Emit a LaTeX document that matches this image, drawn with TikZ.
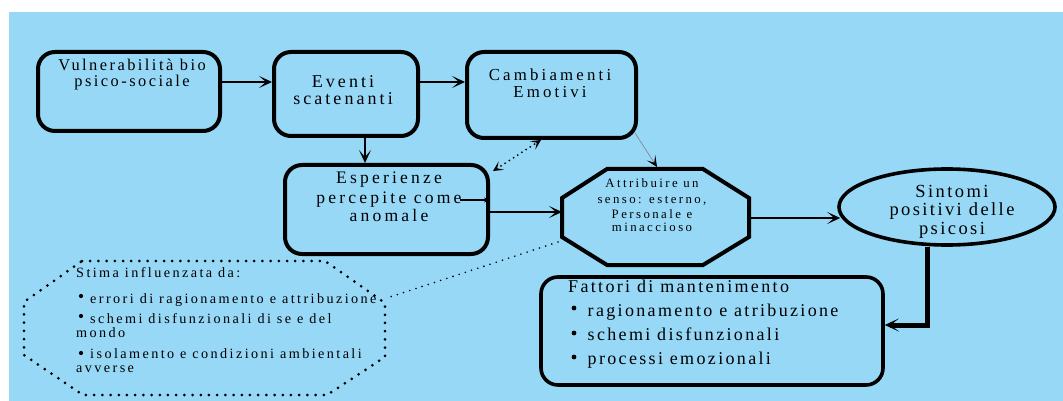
\documentclass[tikz,border=0pt]{standalone}
\usepackage{fontspec}
\setmainfont{Liberation Serif}
\usetikzlibrary{arrows.meta,calc,shapes.geometric}
\definecolor{bg}{RGB}{151,216,247}
\newcommand{\fsz}[2]{\fontsize{#1pt}{#1pt}\selectfont\addfontfeature{LetterSpace=#2}}
\begin{document}
\begin{tikzpicture}[x=1pt,y=-1pt,
  box/.style={draw=black, line width=4pt, rounded corners=17pt, inner sep=0pt},
  ln/.style={inner sep=0pt, anchor=base, text=black},
  lw/.style={inner sep=0pt, anchor=base west, text=black},
  arr/.style={line width=2.6pt, -{Stealth[length=13pt,width=12pt,inset=7pt]}},
  smallarr/.style={line width=1.4pt, -{Stealth[length=6pt,width=5pt,inset=2pt]}},
  dotarr/.style={line width=2pt, dash pattern=on 0pt off 5pt, line cap=round,
     {Stealth[length=10pt,width=10pt,inset=5pt]}-{Stealth[length=10pt,width=10pt,inset=5pt]}},
  bul/.style={circle, fill=black, inner sep=0pt, minimum size=4.8pt},
]
\useasboundingbox (0,0) rectangle (1063,401);
\fill[bg] (9,12) rectangle (1063,401);

% ---- boxes
\node[box, minimum width=182pt, minimum height=79pt] (b1) at (129,91.5) {};
\node[box, minimum width=144pt, minimum height=84pt] (b2) at (346,94) {};
\node[box, minimum width=169pt, minimum height=86pt] (b3) at (551.5,95) {};
\node[box, minimum width=203pt, minimum height=89pt] (b4) at (386.5,209.5) {};
\node[box, line width=3.6pt, minimum width=342pt, minimum height=108pt] (fm) at (712,331) {};
\node[draw=black, line width=3.6pt, ellipse, minimum width=216pt, minimum height=76pt, inner sep=0pt] (el) at (947,207) {};

% ---- octagon
\coordinate (o1) at (607,169);
\coordinate (o2) at (703,169);
\coordinate (o3) at (749,198);
\coordinate (o4) at (749,237);
\coordinate (o5) at (703,265);
\coordinate (o6) at (607,265);
\coordinate (o7) at (562,237);
\coordinate (o8) at (562,198);
\draw[line width=4pt, line join=miter] (o1) -- (o2) -- (o3) -- (o4) -- (o5) -- (o6) -- (o7) -- (o8) -- cycle;

% ---- dotted octagon
\coordinate (s1) at (82,261);
\coordinate (s2) at (325,261);
\coordinate (s3) at (385,303);
\coordinate (s4) at (385,357);
\coordinate (s5) at (327,395);
\coordinate (s6) at (83,395);
\coordinate (s7) at (24,355);
\coordinate (s8) at (24,302);
\draw[line width=3pt, dash pattern=on 0pt off 8.2pt, line cap=round]
  (s1) -- (s2) -- (s3) -- (s4) -- (s5) -- (s6) -- (s7) -- (s8) -- cycle;

% ---- texts
\node[ln, font=\fsz{16.4}{15}] (t1a) at (132,71) {Vulnerabilità bio};
\node[ln, font=\fsz{16.4}{15}] (t1b) at (132,87) {psico-sociale};
\node[ln, font=\fsz{18}{17}] (t2a) at (343,88) {Eventi};
\node[ln, font=\fsz{18}{17}] (t2b) at (343,105) {scatenanti};
\node[ln, font=\fsz{16.8}{19}] (t3a) at (550,81) {Cambiamenti};
\node[ln, font=\fsz{16.8}{19}] (t3b) at (550,98) {Emotivi};
\node[ln, font=\fsz{17.6}{18}] (t4a) at (389,183) {Esperienze};
\node[ln, font=\fsz{17.6}{18}] (t4b) at (389,203) {percepite come};
\node[ln, font=\fsz{17.6}{18}] (t4c) at (389,221) {anomale};
\node[ln, font=\fsz{12.8}{19}] (t5a) at (652,187) {Attribuire un};
\node[ln, font=\fsz{12.8}{19}] (t5b) at (652,203.5) {senso: esterno,};
\node[ln, font=\fsz{12.8}{19}] (t5c) at (652,218) {Personale e};
\node[ln, font=\fsz{12.8}{19}] (t5d) at (652,231.5) {minaccioso};
\node[ln, font=\fsz{18.5}{13}] (t6a) at (952,197) {Sintomi};
\node[ln, font=\fsz{18.5}{13}] (t6b) at (952,215.5) {positivi delle};
\node[ln, font=\fsz{18.5}{13}] (t6c) at (952,234) {psicosi};

\node[lw, font=\fsz{18}{13}] (f0) at (568,292) {Fattori di mantenimento};
\node[bul] (fb1) at (574,308) {};
\node[bul] (fb2) at (574,333) {};
\node[bul] (fb3) at (574,357) {};
\node[lw, font=\fsz{18}{13}] (f1) at (587.5,316) {ragionamento e atribuzione};
\node[lw, font=\fsz{18}{13}] (f2) at (587.5,340) {schemi disfunzionali};
\node[lw, font=\fsz{18}{13}] (f3) at (587.5,364) {processi emozionali};

\node[lw, font=\fsz{14.2}{17}] (g0) at (76,277) {Stima influenzata da:};
\node[bul, minimum size=4.2pt] (gb1) at (81,296) {};
\node[bul, minimum size=4.2pt] (gb2) at (81,316) {};
\node[bul, minimum size=4.2pt] (gb3) at (81,353) {};
\node[lw, font=\fsz{14.2}{17}] (g1) at (90,303) {errori di ragionamento e attribuzione};
\node[lw, font=\fsz{14.2}{17}] (g2) at (90,323) {schemi disfunzionali di se e del};
\node[lw, font=\fsz{14.2}{17}] (g3) at (76,337) {mondo};
\node[lw, font=\fsz{14.2}{17}] (g4) at (90,358) {isolamento e condizioni ambientali};
\node[lw, font=\fsz{14.2}{17}] (g5) at (76,372) {avverse};

% ---- connectors
\coordinate (r1) at (0,82);
\draw[arr] (b1.east |- r1) -- (b2.west |- r1);
\draw[arr] (b2.east |- r1) -- (b3.west |- r1);
\coordinate (c1) at (365,0);
\draw[arr] (b2.south -| c1) -- (b4.north -| c1);
\coordinate (oL) at (562,212);
\draw[arr] (b4.east |- oL) -- (oL);
\coordinate (oR) at (749,218);
\draw[arr] (oR) -- ($(el.west |- oR)+(3,0)$);
\coordinate (c2) at (927,0);
\coordinate (r2) at (0,325);
\draw[line width=5pt, -{Stealth[length=14pt,width=13pt,inset=8pt]}] (el.south -| c2) |- (fm.east |- r2);
\coordinate (oT) at (657,167);
\draw[gray, line width=0.6pt, -{Stealth[length=11pt,width=10pt,inset=6pt,color=black,fill=black]}] ([shift={(-3,-7)}]b3.south east) -- (oT);
\coordinate (c3) at (541,0);
\draw[dotarr] ($(b4.north east)+(3,8)$) -- (b3.south -| c3);
\coordinate (sm) at (460,200);
\draw[smallarr] (sm) -- (b4.east |- sm);
\coordinate (oLL) at (558,242);
\coordinate (sR) at (390,297);
\draw[line width=1.8pt, dash pattern=on 0pt off 6.5pt, line cap=round] (oLL) -- (sR);
\end{tikzpicture}
\end{document}
